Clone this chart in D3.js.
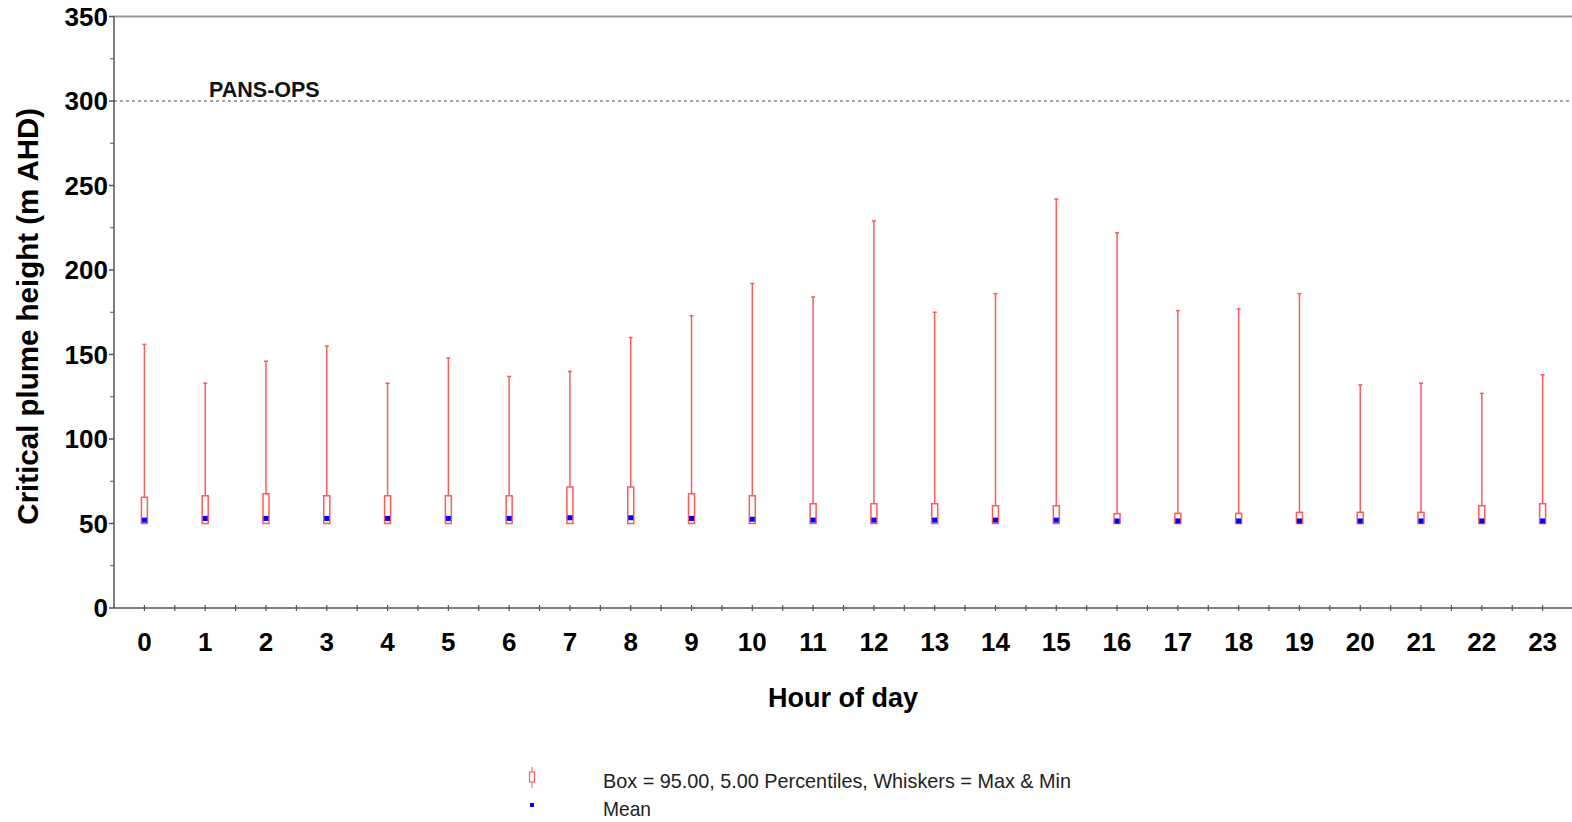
<!DOCTYPE html>
<html>
<head>
<meta charset="utf-8">
<script src="https://cdn.jsdelivr.net/npm/d3@7"></script>
<style>
  body { margin: 0; background: #fff; }
  svg { display: block; font-family: "Liberation Sans", Arial, sans-serif; }
</style>
</head>
<body>
<div id="chart"></div>
<script>
// hourly critical plume height stats (m AHD)
const hours = d3.range(0, 24);
const maxVals = [156, 133, 146, 155, 133, 148, 137, 140, 160, 173, 192, 184, 229, 175, 186, 242, 222, 176, 177, 186, 132, 133, 127, 138];
const p95Vals = [65.5, 66.4, 67.6, 66.4, 66.4, 66.4, 66.4, 71.6, 71.6, 67.6, 66.4, 61.7, 61.7, 61.7, 60.5, 60.5, 55.8, 56, 56, 56.6, 56.6, 56.6, 60.5, 61.7];
const p5Vals = [50, 50, 50, 50, 50, 50, 50, 50, 50, 50, 50, 50, 50, 50, 50, 50, 50, 50, 50, 50, 50, 50, 50, 50];
const minVals = [50, 50, 50, 50, 50, 50, 50, 50, 50, 50, 50, 50, 50, 50, 50, 50, 50, 50, 50, 50, 50, 50, 50, 50];
const meanVals = [52, 53, 53, 53, 53, 53, 53, 53.4, 53.4, 53, 52.5, 52, 52, 52, 52, 52, 51.5, 51.5, 51.5, 51.5, 51.5, 51.5, 51.5, 51.5];
const yTicks = [0, 50, 100, 150, 200, 250, 300, 350];
const pansOps = 300;

const W = 1572, H = 822;
const svg = d3.select("#chart").append("svg")
    .attr("width", W).attr("height", H);

const x = d3.scaleLinear().domain([-0.5, 23.5]).range([114, 1573]);
const y = d3.scaleLinear().domain([0, 350]).range([608, 16.5]);

const red = "#ff5a5a";
const axisCol = "#555";

// top frame line
svg.append("line")
    .attr("x1", x(-0.5)).attr("x2", W)
    .attr("y1", y(350)).attr("y2", y(350))
    .attr("stroke", "#999").attr("stroke-width", 2);

// PANS-OPS line
svg.append("line")
    .attr("x1", x(-0.5)).attr("x2", W)
    .attr("y1", y(pansOps)).attr("y2", y(pansOps))
    .attr("stroke", "#888").attr("stroke-width", 1.5)
    .attr("stroke-dasharray", "3,3");
svg.append("text")
    .attr("x", 209).attr("y", y(pansOps) - 4)
    .attr("font-size", 21.5).attr("font-weight", "bold")
    .attr("fill", "#111")
    .text("PANS-OPS");

// y axis
const yAxis = svg.append("g").attr("transform", `translate(${x(-0.5)},0)`);
yAxis.append("line")
    .attr("y1", y(0)).attr("y2", y(350))
    .attr("stroke", axisCol).attr("stroke-width", 1.5);
yAxis.selectAll(".minor")
    .data(d3.range(25, 350, 50))
    .join("line")
    .attr("x1", -4).attr("x2", 0)
    .attr("y1", d => y(d)).attr("y2", d => y(d))
    .attr("stroke", axisCol).attr("stroke-width", 1);
yAxis.selectAll(".major")
    .data(yTicks)
    .join("line")
    .attr("x1", -5).attr("x2", 0)
    .attr("y1", d => y(d)).attr("y2", d => y(d))
    .attr("stroke", axisCol).attr("stroke-width", 1.5);
yAxis.selectAll("text")
    .data(yTicks)
    .join("text")
    .attr("x", -6).attr("y", d => y(d) + 9)
    .attr("text-anchor", "end")
    .attr("font-size", 26).attr("font-weight", "bold")
    .attr("fill", "#000")
    .text(d => d);

svg.append("text")
    .attr("transform", `translate(38,${(y(0) + y(350)) / 2 + 4}) rotate(-90)`)
    .attr("text-anchor", "middle")
    .attr("font-size", 29.5).attr("font-weight", "bold")
    .text("Critical plume height (m AHD)");

// x axis
const xAxis = svg.append("g").attr("transform", `translate(0,${y(0)})`);
xAxis.append("line")
    .attr("x1", x(-0.5)).attr("x2", W)
    .attr("stroke", axisCol).attr("stroke-width", 1.5);
xAxis.selectAll(".tick")
    .data(d3.range(0, 24, 0.5))
    .join("line")
    .attr("x1", d => x(d)).attr("x2", d => x(d))
    .attr("y1", -3).attr("y2", 3)
    .attr("stroke", axisCol).attr("stroke-width", 1.2);
xAxis.selectAll("text")
    .data(hours)
    .join("text")
    .attr("x", d => x(d)).attr("y", 43)
    .attr("text-anchor", "middle")
    .attr("font-size", 26).attr("font-weight", "bold")
    .text(d => d);

svg.append("text")
    .attr("x", 843).attr("y", 707)
    .attr("text-anchor", "middle")
    .attr("font-size", 27).attr("font-weight", "bold")
    .text("Hour of day");

// boxes
const bw = 6;
const g = svg.selectAll(".hour")
    .data(hours)
    .join("g");

g.append("line")
    .attr("x1", d => x(d)).attr("x2", d => x(d))
    .attr("y1", d => y(p95Vals[d])).attr("y2", d => y(maxVals[d]))
    .attr("stroke", red).attr("stroke-width", 1.5);
g.append("line")
    .attr("x1", d => x(d) - 2).attr("x2", d => x(d) + 2)
    .attr("y1", d => y(maxVals[d])).attr("y2", d => y(maxVals[d]))
    .attr("stroke", red).attr("stroke-width", 1.5);
g.append("line")
    .attr("x1", d => x(d)).attr("x2", d => x(d))
    .attr("y1", d => y(p5Vals[d])).attr("y2", d => y(minVals[d]))
    .attr("stroke", red).attr("stroke-width", 1.5);
g.append("rect")
    .attr("x", d => x(d) - bw / 2)
    .attr("y", d => y(p95Vals[d]))
    .attr("width", bw)
    .attr("height", d => y(p5Vals[d]) - y(p95Vals[d]))
    .attr("fill", "#fff")
    .attr("stroke", red).attr("stroke-width", 1.5);
g.append("rect")
    .attr("x", d => x(d) - 2.5)
    .attr("y", d => y(meanVals[d]) - 2.5)
    .attr("width", 5).attr("height", 5)
    .attr("fill", "#0000ff");

// legend
const lg = svg.append("g");
lg.append("line")
    .attr("x1", 532).attr("x2", 532).attr("y1", 767).attr("y2", 788)
    .attr("stroke", red).attr("stroke-width", 1);
lg.append("rect")
    .attr("x", 529.5).attr("y", 772).attr("width", 5).attr("height", 10)
    .attr("fill", "#fff").attr("stroke", red).attr("stroke-width", 1.2);
lg.append("rect")
    .attr("x", 530).attr("y", 803).attr("width", 4).attr("height", 4)
    .attr("fill", "#0000ff");
lg.append("text")
    .attr("x", 603).attr("y", 788)
    .attr("font-size", 21)
    .attr("textLength", 468).attr("lengthAdjust", "spacingAndGlyphs")
    .attr("fill", "#222")
    .text("Box = 95.00, 5.00 Percentiles, Whiskers = Max & Min");
lg.append("text")
    .attr("x", 603).attr("y", 816)
    .attr("font-size", 21)
    .attr("textLength", 48).attr("lengthAdjust", "spacingAndGlyphs")
    .attr("fill", "#222")
    .text("Mean");
</script>
</body>
</html>
